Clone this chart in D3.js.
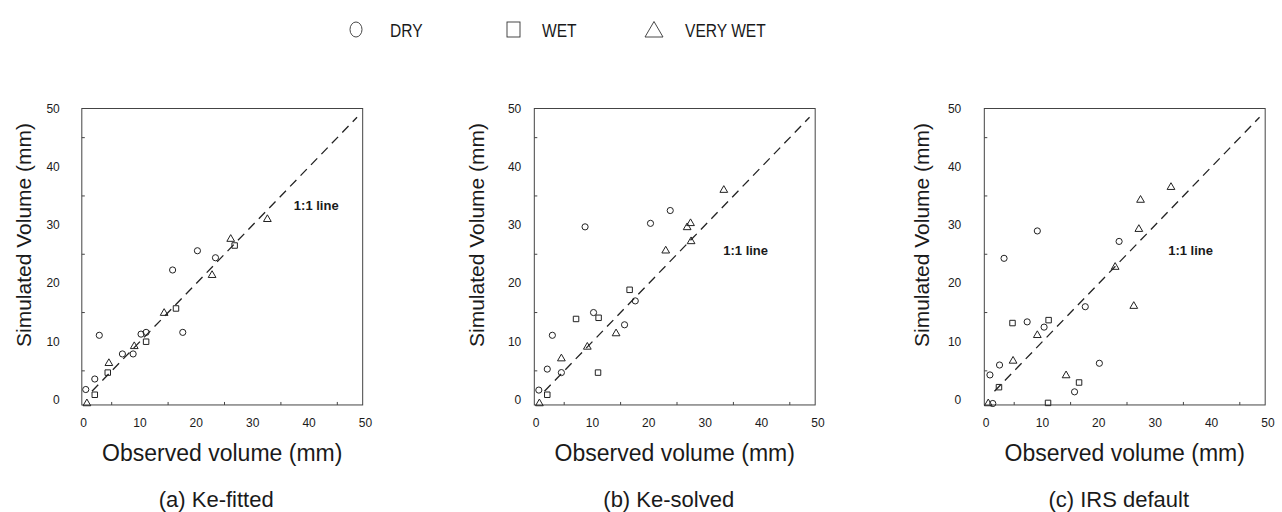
<!DOCTYPE html>
<html>
<head>
<meta charset="utf-8">
<script src="https://cdn.jsdelivr.net/npm/d3@7"></script>
<style>
    body { margin: 0; background: #fff; }
    text { font-family: "Liberation Sans", Arial, sans-serif; fill: #1a1a1a; }
</style>
</head>
<body>
<svg id="drawing_region"></svg>
<script>
// values, [observed, simulated] in mm
const classNames = ['DRY', 'WET', 'VERY WET'];
const panelTitles = ['(a) Ke-fitted', '(b) Ke-solved', '(c) IRS default'];
const tickValues = [0, 10, 20, 30, 40, 50];
const minorTicks = [5, 15, 25, 35, 45];
const oneToOne = [1.5, 48.5];

const dryA = [[0.4, 1.8], [2.0, 3.6], [2.8, 11.1], [6.9, 7.9], [8.8, 7.9], [10.2, 11.3],
              [11.1, 11.6], [15.8, 22.3], [17.6, 11.6], [20.2, 25.6], [23.4, 24.4]];
const wetA = [[2.0, 0.9], [4.3, 4.7], [11.1, 10.0], [16.4, 15.7], [26.8, 26.5]];
const veryWetA = [[0.6, -0.6], [4.5, 6.3], [9.0, 9.2], [14.3, 14.9], [22.8, 21.4],
                  [26.1, 27.6], [32.6, 31.0]];

const dryB = [[0.5, 1.7], [2.0, 5.3], [2.9, 11.1], [4.5, 4.7], [8.7, 29.7], [10.2, 15.0],
              [15.7, 12.9], [17.6, 17.0], [20.3, 30.3], [23.8, 32.5]];
const wetB = [[2.0, 0.9], [7.1, 13.9], [11.1, 14.1], [11.0, 4.7], [16.6, 18.9]];
const veryWetB = [[0.6, -0.6], [4.5, 7.1], [9.1, 9.1], [14.2, 11.4], [23.0, 25.6],
                  [26.8, 29.6], [27.4, 30.3], [27.5, 27.2], [33.3, 36.0]];

const dryC = [[1.2, -0.6], [0.7, 4.3], [2.4, 6.0], [3.2, 24.3], [7.3, 13.4], [9.1, 29.0],
              [10.3, 12.5], [15.7, 1.4], [17.6, 16.0], [20.1, 6.3], [23.6, 27.2]];
const wetC = [[2.3, 2.2], [4.7, 13.2], [11.1, 13.7], [11.0, -0.5], [16.5, 3.0]];
const veryWetC = [[0.4, -0.6], [4.8, 6.7], [9.1, 11.1], [14.2, 4.2], [22.9, 22.8],
                  [26.2, 16.1], [27.1, 29.3], [27.4, 34.3], [32.8, 36.5]];

const panels = [
    { title: panelTitles[0], series: [dryA, wetA, veryWetA], left: 83.5, labelGap: 22, yLabelDx: -58, noteAt: [37.3, 33.4] },
    { title: panelTitles[1], series: [dryB, wetB, veryWetB], left: 536, labelGap: 13, yLabelDx: -58, noteAt: [33.2, 25.7] },
    { title: panelTitles[2], series: [dryC, wetC, veryWetC], left: 986, labelGap: 23, yLabelDx: -63, noteAt: [32.3, 25.7] },
];

const symbolTypes = [d3.symbolCircle, d3.symbolSquare, d3.symbolTriangle];
const symbolSizes = [30, 30, 26];

const svg = d3.select('#drawing_region')
    .attr('width', 1282)
    .attr('height', 512);

// legend
const legend = svg.append('g');
const legendX = [356, 513.5, 654];
legend.append('ellipse')
    .attr('cx', legendX[0]).attr('cy', 29.5).attr('rx', 6).attr('ry', 7.5)
    .attr('fill', 'none').attr('stroke', '#333').attr('stroke-width', 0.9);
legend.append('rect')
    .attr('x', legendX[1] - 6.5).attr('y', 22).attr('width', 13).attr('height', 15)
    .attr('fill', 'none').attr('stroke', '#333').attr('stroke-width', 0.9);
legend.append('path')
    .attr('d', 'M0,-8L9,7.5L-9,7.5Z')
    .attr('transform', `translate(${legendX[2]},29.5)`)
    .attr('fill', 'none').attr('stroke', '#333').attr('stroke-width', 0.9);
legend.selectAll('text.lg').data(classNames).enter()
    .append('text')
    .attr('x', (d, i) => [390, 542, 685][i])
    .attr('y', 37)
    .attr('font-size', 19)
    .attr('transform', (d, i) => `translate(${[390, 542, 685][i] * 0.18},0) scale(0.82,1)`)
    .text(d => d);

class ScatterPanel {
    constructor(svg, panel) {
        this.svg = svg;
        this.panel = panel;
        this.init();
    }

    init() {
        let self = this;
        let x0 = self.panel.left;
        self.x = d3.scaleLinear().domain([0, 50]).range([x0, x0 + 282]);
        self.y = d3.scaleLinear().domain([0, 50]).range([400, 108.5]);
        self.g = self.svg.append('g');
    }

    render() {
        let self = this;
        let x = self.x, y = self.y, g = self.g;
        let fx0 = x(-0.3), fx1 = x(49.5), fy0 = y(-0.85), fy1 = y(50);

        // frame
        g.append('rect')
            .attr('x', fx0).attr('y', fy1)
            .attr('width', fx1 - fx0).attr('height', fy0 - fy1)
            .attr('fill', 'none').attr('stroke', '#444').attr('stroke-width', 1);

        // small inward ticks
        g.selectAll('line.tx').data(minorTicks).enter()
            .append('line')
            .attr('x1', d => x(d)).attr('x2', d => x(d))
            .attr('y1', fy0).attr('y2', fy0 - 3)
            .attr('stroke', '#444');
        g.selectAll('line.ty').data(minorTicks).enter()
            .append('line')
            .attr('y1', d => y(d)).attr('y2', d => y(d))
            .attr('x1', fx0).attr('x2', fx0 + 3)
            .attr('stroke', '#444');

        // tick labels
        g.selectAll('text.xt').data(tickValues).enter()
            .append('text')
            .attr('x', d => x(d)).attr('y', 427)
            .attr('text-anchor', 'middle')
            .attr('font-size', 12)
            .text(d => d);
        g.selectAll('text.yt').data(tickValues).enter()
            .append('text')
            .attr('x', fx0 - self.panel.labelGap).attr('y', d => y(d) + 4)
            .attr('text-anchor', 'end')
            .attr('font-size', 12)
            .text(d => d);

        // axis titles
        let cx = (fx0 + fx1) / 2;
        g.append('text')
            .attr('x', cx).attr('y', 461)
            .attr('text-anchor', 'middle')
            .attr('font-size', 23)
            .text('Observed volume (mm)');
        g.append('text')
            .attr('transform', `translate(${fx0 + self.panel.yLabelDx},235) rotate(-90)`)
            .attr('text-anchor', 'middle')
            .attr('dy', '0.35em')
            .attr('font-size', 21)
            .text('Simulated Volume (mm)');
        g.append('text')
            .attr('x', cx - 6).attr('y', 507)
            .attr('text-anchor', 'middle')
            .attr('font-size', 22)
            .text(self.panel.title);

        // 1:1 line
        g.append('line')
            .attr('x1', x(oneToOne[0])).attr('y1', y(oneToOne[0]))
            .attr('x2', x(oneToOne[1])).attr('y2', y(oneToOne[1]))
            .attr('stroke', '#222').attr('stroke-width', 1.3)
            .attr('stroke-dasharray', '9,6');
        g.append('text')
            .attr('x', x(self.panel.noteAt[0])).attr('y', y(self.panel.noteAt[1]))
            .attr('dy', '0.35em')
            .attr('font-size', 13)
            .attr('font-weight', 'bold')
            .text('1:1 line');

        // points
        self.panel.series.forEach((pts, i) => {
            g.selectAll(null).data(pts).enter()
                .append('path')
                .attr('d', d3.symbol(symbolTypes[i], symbolSizes[i]))
                .attr('transform', d => `translate(${x(d[0])},${y(d[1])})`)
                .attr('fill', 'none')
                .attr('stroke', '#222')
                .attr('stroke-width', 1);
        });
    }
}

panels.forEach(p => {
    let sp = new ScatterPanel(svg, p);
    sp.render();
});
</script>
</body>
</html>
